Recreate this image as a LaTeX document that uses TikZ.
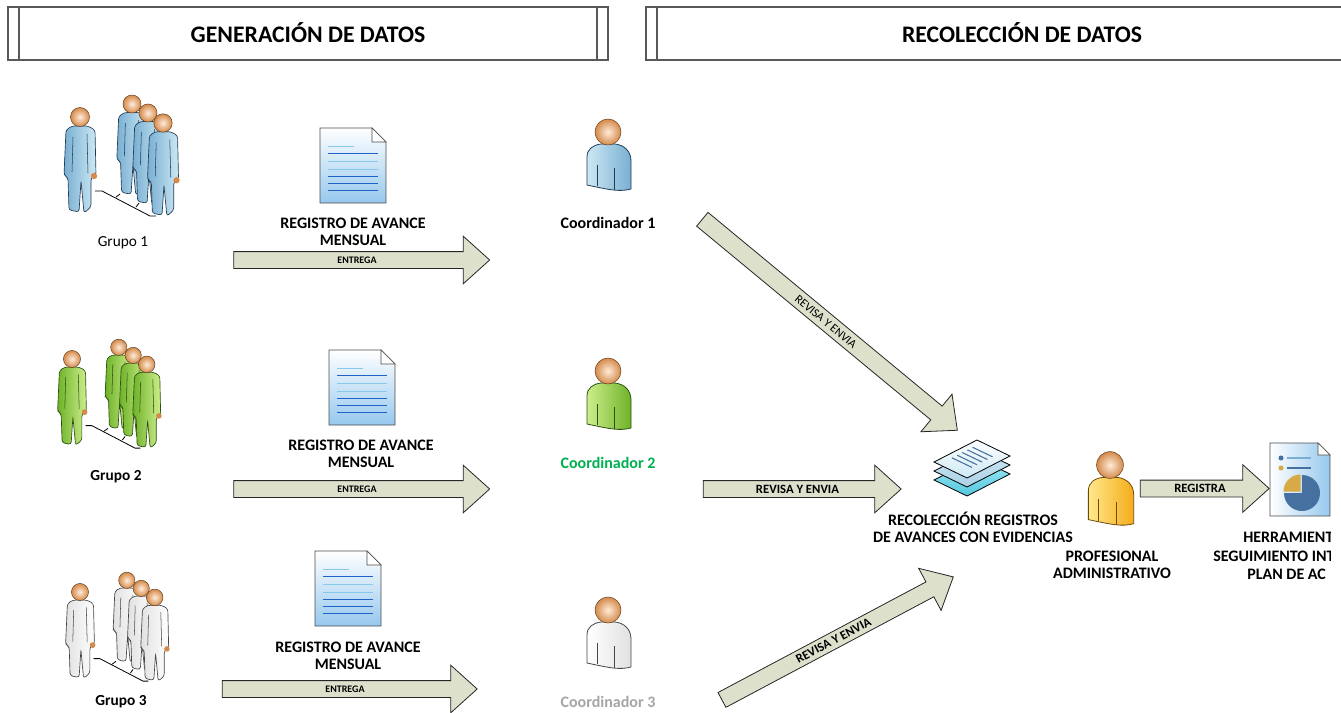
\documentclass[tikz,border=0pt]{standalone}
\usepackage{fontspec}
\setmainfont{Carlito}
\usepackage{tikz}
\usetikzlibrary{shapes.arrows, calc}

\definecolor{flechafondo}{RGB}{221,225,204}
\definecolor{azulA}{RGB}{205,232,244}
\definecolor{azulB}{RGB}{120,175,210}
\definecolor{azulC}{RGB}{35,60,85}
\definecolor{verdeA}{RGB}{205,238,140}
\definecolor{verdeB}{RGB}{110,178,40}
\definecolor{verdeC}{RGB}{45,80,20}
\definecolor{blancoA}{RGB}{255,255,255}
\definecolor{blancoB}{RGB}{225,225,225}
\definecolor{blancoC}{RGB}{70,70,70}
\definecolor{amarilloA}{RGB}{255,232,140}
\definecolor{amarilloB}{RGB}{245,172,25}
\definecolor{amarilloC}{RGB}{110,75,10}
\definecolor{pielA}{RGB}{255,236,218}
\definecolor{pielB}{RGB}{212,138,74}
\definecolor{hojaB}{RGB}{150,200,238}
\definecolor{lineaclara}{RGB}{135,200,235}
\definecolor{lineaoscura}{RGB}{30,100,200}
\definecolor{verdetexto}{RGB}{0,176,80}
\definecolor{gristexto}{RGB}{166,166,166}
\definecolor{pieazul}{RGB}{70,112,160}
\definecolor{pieoro}{RGB}{215,170,70}

\newcommand\cabeza[1]{\shade[inner color=pielA, outer color=pielB, draw=pielB!50!black, line width=0.4pt] (0,0) circle (#1);}

\newcommand\persona[4]{%
  \begin{scope}[shift={(#1,#2)}, scale=#3]
    \draw[draw=#4C, left color=#4B, right color=#4A, line width=0.5pt, rounded corners=2pt] (-14,13) -- (-8,9) -- (8,9) -- (15,13) -- (16,58) -- (11,61) -- (11,90) -- (4,96) -- (1,64) -- (-1,95) -- (-11,93) -- (-12,61) -- (-16,58) -- cycle;
    \draw[#4C, line width=0.4pt] (7,17) -- (8,56) (-7,20) -- (-8,55);
    \fill[pielB] (14,59) circle (3.2);
    \cabeza{9.5}
  \end{scope}}

\newcommand\busto[4]{%
  \begin{scope}[shift={(#1,#2)}, scale=#3]
    \draw[draw=#4C, left color=#4A, right color=#4B, line width=0.6pt] (-21,53) -- (-21,25) .. controls (-21,17) and (-15,13) .. (-7,12) -- (7,12) .. controls (16,13) and (23,19) .. (23,29) -- (23,57) .. controls (12,60) and (2,58) .. (-21,53) -- cycle;
    \draw[#4C, line width=0.5pt] (-11,33) -- (-11,54) (6,36) -- (6,58);
    \cabeza{13}
  \end{scope}}

\newcommand\grupo[4]{%
  \begin{scope}[shift={(#1,#2)}, scale=#3]
    \draw[line width=0.6pt] (15,74) -- (22,74) -- (70,99) -- (76,99) (36,80) -- (40,77) (56,90) -- (59,86);
    \persona{52}{-13}{0.95}{#4}
    \persona{68}{-4}{0.95}{#4}
    \persona{83}{6}{0.97}{#4}
    \persona{0}{0}{1}{#4}
  \end{scope}}

\newcommand\documento[2]{%
  \begin{scope}[shift={(#1,#2)}]
    \draw[draw=black!70, line width=0.6pt, top color=white, bottom color=hojaB] (0,0) -- (52,0) -- (66,14) -- (66,75) -- (0,75) -- cycle;
    \draw[draw=black!70, line width=0.5pt, fill=white] (52,0) -- (52,14) -- (66,14) -- cycle;
    \draw[lineaclara, line width=0.7pt] (8,18) -- (34,18) (8,33) -- (58,33) (8,41) -- (58,41);
    \draw[lineaoscura, line width=0.7pt] (8,25) -- (58,25) (8,48) -- (58,48) (8,55) -- (58,55) (8,62) -- (58,62);
  \end{scope}}

\begin{document}
\begin{tikzpicture}[x=0.75pt, y=-0.75pt,
  titulo/.style={font=\bfseries\fontsize{17.8}{20}\selectfont},
  encabezado/.style={draw=black!65, line width=0.8pt},
  etiqueta/.style={font=\bfseries\fontsize{12}{12.75}\selectfont, align=center},
  grupo/.style={font=\fontsize{11.5}{13}\selectfont},
  flecha/.style={single arrow, draw=black!85, fill=flechafondo, line width=0.6pt, minimum width=0pt, single arrow head extend=11.6pt, single arrow tip angle=84, inner xsep=0pt, text depth=0pt},
  entrega/.style={flecha, font=\bfseries\fontsize{7.5}{8}\selectfont, text height=4.5pt, inner ysep=3.75pt},
  revisa/.style={flecha, font=\bfseries\fontsize{9.5}{10}\selectfont, text height=6pt, inner ysep=3pt}]
\useasboundingbox (0,0) rectangle (1341,713);
\clip (0,0) rectangle (1341,713);

\draw[encabezado] (8,7) rectangle (608,60) (19,7) -- (19,60) (597,7) -- (597,60);
\node[titulo] (generacion) at (308,33) {GENERACIÓN DE DATOS};
\draw[encabezado] (646,7) rectangle (1398,60) (657,7) -- (657,60) (1387,7) -- (1387,60);
\node[titulo] (recoleccion) at (1022,33) {RECOLECCIÓN DE DATOS};

\grupo{80}{117}{1}{azul}
\node[grupo] (grupo1) at (123,243) {Grupo 1};
\grupo{72}{359}{0.9}{verde}
\node[grupo, font=\bfseries\fontsize{11.5}{13}\selectfont] (grupo2) at (116,477) {Grupo 2};
\grupo{80}{592}{0.9}{blanco}
\node[grupo, font=\bfseries\fontsize{11.5}{13}\selectfont] (grupo3) at (121,702) {Grupo 3};

\documento{320}{128}
\node[etiqueta] (registro1) at (353,232) {REGISTRO DE AVANCE\\MENSUAL};
\documento{329}{350}
\node[etiqueta] (registro2) at (361,454) {REGISTRO DE AVANCE\\MENSUAL};
\documento{315}{551}
\node[etiqueta] (registro3) at (348,656) {REGISTRO DE AVANCE\\MENSUAL};

\node[entrega, minimum height=256*0.75pt] (entrega1) at (357,260) {ENTREGA};
\node[entrega, minimum height=256*0.75pt] (entrega2) at (357,489) {ENTREGA};
\node[entrega, minimum height=255*0.75pt] (entrega3) at (345,689) {ENTREGA};

\busto{608}{132}{1}{azul}
\node[etiqueta] (coord1) at (608,223) {Coordinador 1};
\busto{608}{371}{1}{verde}
\node[etiqueta, text=verdetexto] (coord2) at (608,463) {Coordinador 2};
\busto{608}{610}{1}{blanco}
\node[etiqueta, text=gristexto] (coord3) at (608,702) {Coordinador 3};

\node[flecha, font=\fontsize{9}{10}\selectfont, text height=6pt, inner ysep=3.4pt, rotate=-39.6, minimum height=331*0.75pt] (revisa1) at (826,321.6) {REVISA Y ENVIA};
\node[revisa, minimum height=198*0.75pt] (revisa2) at (797.5,489) {REVISA Y ENVIA};
\node[revisa, rotate=28, minimum height=262*0.75pt] (revisa3) at (833.5,640.6) {REVISA Y ENVIA};

\draw[black, line width=0.6pt, top color=azulA!80!cyan, bottom color=azulB!70!cyan] (934,480) -- (977,458) -- (1010,474) -- (967,496) -- cycle;
\draw[black, line width=0.6pt, top color=azulA, bottom color=azulA!60!azulB] (934,471) -- (977,449) -- (1010,465) -- (967,487) -- cycle;
\draw[black, line width=0.6pt, top color=white, bottom color=azulA] (934,462) -- (977,440) -- (1010,456) -- (967,478) -- cycle;
\foreach \t in {0.3,0.42,0.54,0.66,0.78}
  \draw[pieazul, line width=0.8pt] ($(939,464.4)+\t*(43,-22)$) -- ++(20,9.6);
\node[etiqueta] (coleccion) at (973,527) {RECOLECCIÓN REGISTROS\\DE AVANCES CON EVIDENCIAS};

\busto{1110}{465}{1.03}{amarillo}
\node[etiqueta] (profesional) at (1112,565) {PROFESIONAL\\ADMINISTRATIVO};

\node[revisa, minimum height=129*0.75pt] (registra) at (1200,488.5) {REGISTRA};

\begin{scope}[shift={(1270,443)}]
  \draw[draw=black!70, line width=0.6pt, left color=white, right color=hojaB] (0,0) -- (48,0) -- (60,12) -- (60,73) -- (0,73) -- cycle;
  \draw[draw=black!70, line width=0.5pt, fill=white] (48,0) -- (48,12) -- (60,12) -- cycle;
  \fill[pieazul] (11,15) circle (2.5);
  \fill[pieoro] (11,25) circle (2.5);
  \draw[azulB, line width=0.8pt] (17,15) -- (41,15);
  \draw[pieazul, line width=0.8pt] (17,25) -- (41,25);
  \fill[pieazul] (32,50) -- ++(270:18) arc[start angle=270, end angle=540, radius=18] -- cycle;
  \fill[pieoro] (30.5,48.5) -- ++(180:17) arc[start angle=180, end angle=270, radius=17] -- cycle;
\end{scope}

\begin{scope}
  \clip (0,0) rectangle (1330,713);
  \node[etiqueta, anchor=west, inner sep=0pt] (herramienta1) at (1243,537) {HERRAMIENT};
  \node[etiqueta, anchor=west, inner sep=0pt] (herramienta2) at (1213,556) {SEGUIMIENTO INT};
  \node[etiqueta, anchor=west, inner sep=0pt] (herramienta3) at (1247,574) {PLAN DE AC};
\end{scope}
\end{tikzpicture}
\end{document}
